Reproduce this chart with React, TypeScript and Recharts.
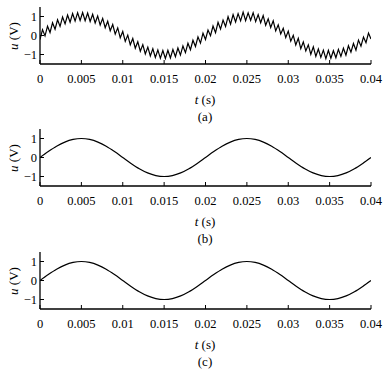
import { LineChart, Line, XAxis, YAxis } from "recharts";

const X_TICKS = [0, 0.005, 0.01, 0.015, 0.02, 0.025, 0.03, 0.035, 0.04];
const Y_TICKS = [-1, 0, 1];
const CAPTIONS = ["(a)", "(b)", "(c)"];

// (a) output voltage with switching ripple, one sample per ripple peak / valley
const STEP_A = 0.04 / 132;
const U_A = [
  -0.21,
  0.31, -0.02, 0.49, 0.16, 0.67, 0.33, 0.83, 0.48, 0.97, 0.61,
  1.08, 0.7, 1.16, 0.76, 1.2, 0.79, 1.21, 0.78, 1.18, 0.74,
  1.12, 0.66, 1.03, 0.55, 0.9, 0.41, 0.75, 0.25, 0.58, 0.07,
  0.4, -0.12, 0.21, -0.31, 0.02, -0.49, -0.16, -0.67, -0.33, -0.83,
  -0.48, -0.97, -0.61, -1.08, -0.7, -1.16, -0.76, -1.2, -0.79, -1.21,
  -0.78, -1.18, -0.74, -1.12, -0.66, -1.03, -0.55, -0.9, -0.41, -0.75,
  -0.25, -0.58, -0.07, -0.4, 0.12, -0.21,
  0.29, -0.01, 0.5, 0.15, 0.69, 0.34, 0.81, 0.47, 0.99, 0.6,
  1.1, 0.71, 1.15, 0.77, 1.23, 0.78, 1.19, 0.8, 1.2, 0.73,
  1.1, 0.67, 1.05, 0.54, 0.88, 0.42, 0.77, 0.24, 0.56, 0.08,
  0.38, -0.11, 0.23, -0.3, 0.01, -0.5, -0.15, -0.69, -0.34, -0.81,
  -0.49, -0.99, -0.6, -1.1, -0.71, -1.15, -0.77, -1.22, -0.78, -1.2,
  -0.8, -1.17, -0.73, -1.1, -0.67, -1.04, -0.54, -0.88, -0.42, -0.77,
  -0.24, -0.56, -0.08, -0.38, 0.13, -0.19,
];

// (b), (c) filtered output, read every 1 ms
const STEP_BC = 0.001;
const U_B = [
  0, 0.31, 0.59, 0.81, 0.95, 1, 0.95, 0.81, 0.59, 0.31,
  0, -0.31, -0.59, -0.81, -0.95, -1, -0.95, -0.81, -0.59, -0.31,
  0, 0.31, 0.59, 0.81, 0.95, 1, 0.95, 0.81, 0.59, 0.31,
  0, -0.31, -0.59, -0.81, -0.95, -1, -0.95, -0.81, -0.59, -0.31,
  0,
];
const U_C = [
  0, 0.31, 0.59, 0.81, 0.95, 1, 0.95, 0.81, 0.59, 0.31,
  0, -0.31, -0.59, -0.81, -0.95, -1, -0.95, -0.81, -0.59, -0.31,
  0, 0.31, 0.59, 0.81, 0.95, 1, 0.95, 0.81, 0.59, 0.31,
  0, -0.31, -0.59, -0.81, -0.95, -1, -0.95, -0.81, -0.59, -0.31,
  0,
];

const W = 387;
const PLOT_RIGHT = 371;
const PLOT_H = 57;
const FONT = "'Liberation Serif', 'Times New Roman', serif";

const toRows = (values: number[], step: number) => values.map((u, i) => ({ t: i * step, u }));

const frame = { stroke: "#000", strokeWidth: 1.3 };
const tickLine = { stroke: "#000", strokeWidth: 1 };
const tickText = { fill: "#000", fontSize: 12.5, fontFamily: FONT };

const fmtY = (v: number) => (v < 0 ? "\u2212" + Math.abs(v) : String(v));

const Panel = ({ values, step, top, caption, curve }: { values: number[]; step: number; top: number; caption: string; curve: "linear" | "monotone" }) => {
  const data = toRows(values, step);
  return (
    <div style={{ position: "absolute", left: 0, top: top - 7, width: W, height: 125, fontFamily: FONT, color: "#000" }}>
      <LineChart width={W} height={7 + PLOT_H + 30} data={data} margin={{ top: 7, right: W - PLOT_RIGHT, bottom: 0, left: 0 }}>
        <XAxis
          dataKey="t"
          type="number"
          domain={[0, 0.04]}
          ticks={X_TICKS}
          interval={0}
          height={30}
          tickSize={-4}
          tickMargin={14}
          tick={tickText}
          tickLine={tickLine}
          axisLine={frame}
          allowDataOverflow
        />
        <XAxis xAxisId="top" orientation="top" type="number" domain={[0, 0.04]} ticks={X_TICKS} interval={0} height={0} tickSize={-4} tick={false} tickLine={tickLine} axisLine={frame} allowDataOverflow />
        <YAxis
          type="number"
          domain={[-1.5, 1.5]}
          ticks={Y_TICKS}
          interval={0}
          width={40}
          tickSize={-4}
          tickMargin={7}
          tick={tickText}
          tickFormatter={fmtY}
          tickLine={tickLine}
          axisLine={frame}
          allowDataOverflow
        />
        <YAxis yAxisId="r" orientation="right" type="number" domain={[-1.5, 1.5]} ticks={Y_TICKS} interval={0} width={0} tickSize={-4} tick={false} tickLine={tickLine} axisLine={frame} allowDataOverflow />
        <Line type={curve} dataKey="u" stroke="#000" strokeWidth={1.2} dot={false} isAnimationActive={false} />
      </LineChart>
      <div style={{ position: "absolute", left: 14 - 30, top: 36 - 8, width: 60, height: 16, lineHeight: "16px", textAlign: "center", fontSize: 13, transform: "rotate(-90deg)" }}>
        <i>u</i> (V)
      </div>
      <div style={{ position: "absolute", left: 205 - 30, top: 100 - 8, width: 60, height: 16, lineHeight: "16px", textAlign: "center", fontSize: 13 }}>
        <i>t</i> (s)
      </div>
      <div style={{ position: "absolute", left: 205 - 30, top: 117 - 8, width: 60, height: 16, lineHeight: "16px", textAlign: "center", fontSize: 13 }}>
        {caption}
      </div>
    </div>
  );
};

export default function App() {
  return (
    <div style={{ position: "absolute", left: 0, top: 0, width: W, height: 378, background: "#fff" }}>
      <Panel values={U_A} step={STEP_A} top={7} caption={CAPTIONS[0]} curve="linear" />
      <Panel values={U_B} step={STEP_BC} top={129} caption={CAPTIONS[1]} curve="monotone" />
      <Panel values={U_C} step={STEP_BC} top={252} caption={CAPTIONS[2]} curve="monotone" />
    </div>
  );
}
